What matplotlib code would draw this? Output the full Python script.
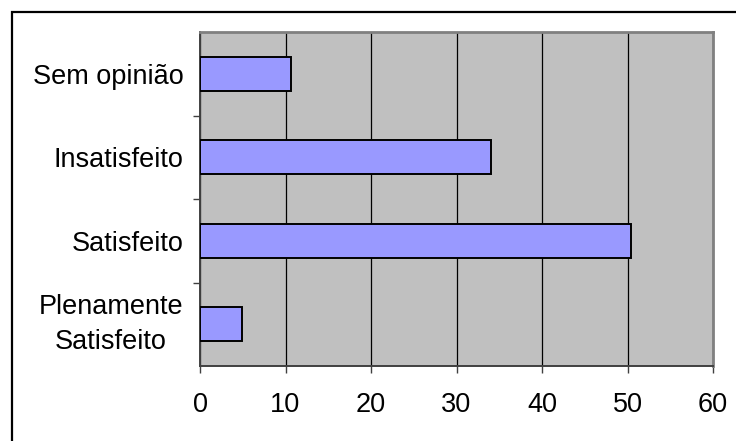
import matplotlib.pyplot as plt
from matplotlib.patches import Rectangle

categorias = ["Plenamente\nSatisfeito", "Satisfeito", "Insatisfeito", "Sem opinião"]
valores = [4.9, 50.4, 34.0, 10.7]
xticks = [0, 10, 20, 30, 40, 50, 60]

plt.rcParams['font.family'] = ['Liberation Sans', 'DejaVu Sans']

fig = plt.figure(figsize=(7.36, 4.41), dpi=100)
ax = fig.add_axes([200 / 736, 75 / 441, 513 / 736, 334 / 441])

# outer chart frame (runs off the right and bottom edges)
fig.patches.append(Rectangle((12 / 736, -0.1), 1.0, (441 - 12) / 441 + 0.1,
                             transform=fig.transFigure, fill=False,
                             edgecolor="black", linewidth=1.6))

ypos = list(range(len(categorias)))
ax.set_facecolor("#C0C0C0")
ax.barh(ypos, valores, height=0.41, color="#9999FF",
        edgecolor="black", linewidth=1.4, zorder=3)

ax.set_xlim(0, 60)
ax.set_ylim(-0.5, len(categorias) - 0.5)
ax.set_xticks(xticks)
ax.grid(axis="x", color="black", linewidth=0.9, zorder=1)
ax.set_axisbelow(True)

ax.set_yticks(ypos)
labels = ax.set_yticklabels(categorias, multialignment="center", linespacing=1.45)
# two-line label: center the whole block on the tick
labels[0].set_va("center")
ax.set_yticks([y + 0.5 for y in ypos[:-1]], minor=True)
ax.tick_params(axis="y", which="major", length=0, pad=12, labelsize=19.5)
ax.tick_params(axis="y", which="minor", length=5, width=1, color="#404040")
ax.tick_params(axis="x", length=5, width=1, color="#404040", pad=14, labelsize=19.5)

for s in ("left", "bottom"):
    ax.spines[s].set_color("#404040")
    ax.spines[s].set_linewidth(1.4)
for s in ("top", "right"):
    ax.spines[s].set_color("#808080")
    ax.spines[s].set_linewidth(2)

fig.savefig("out.png", dpi=100)
